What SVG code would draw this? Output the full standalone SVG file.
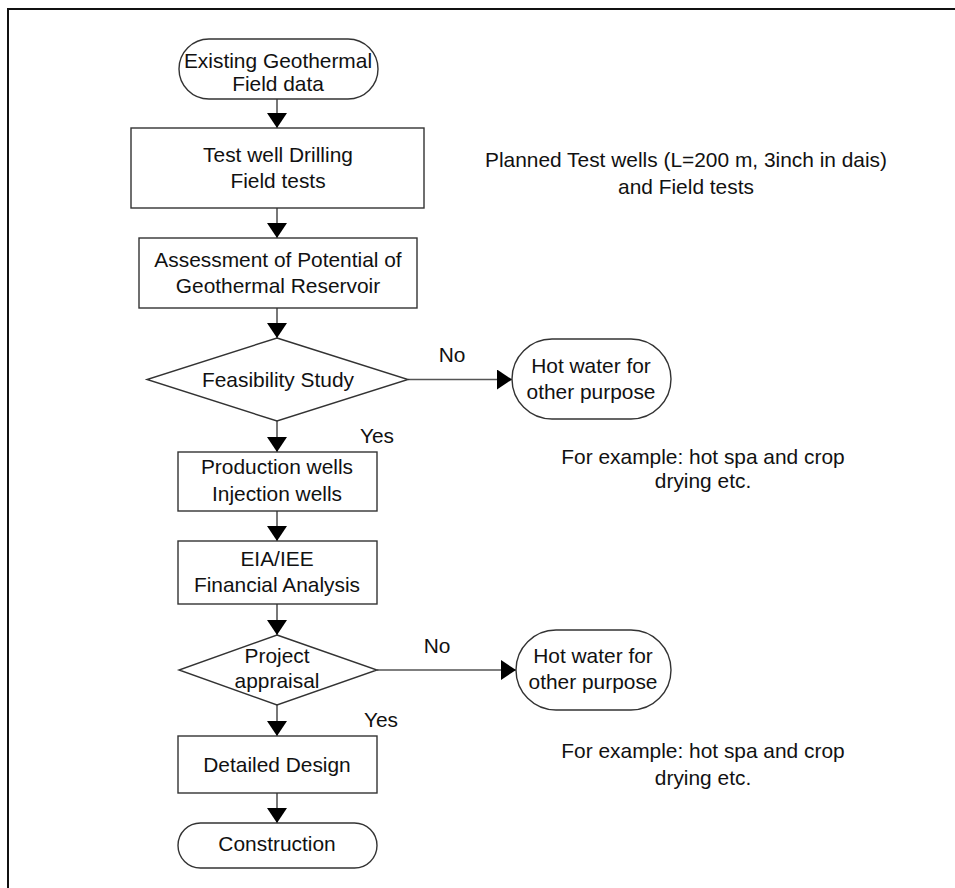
<svg xmlns="http://www.w3.org/2000/svg" width="955" height="888" viewBox="0 0 955 888">
<defs>
<style>
.n{fill:#fff;stroke:#333;stroke-width:1.4}
.t{font-family:"Liberation Sans",Arial,sans-serif;font-size:20.9px;fill:#111;text-anchor:middle}
.c{stroke:#555;stroke-width:1.6;fill:none}
</style>
<marker id="ah" markerUnits="userSpaceOnUse" markerWidth="16" markerHeight="20" refX="15" refY="10" orient="auto" viewBox="0 0 16 20">
<path d="M0,0 L15,10 L0,20 z" fill="#000"/>
</marker>
</defs>
<rect x="0" y="0" width="955" height="888" fill="#fff"/>
<rect x="8" y="9" width="965" height="900" fill="none" stroke="#111" stroke-width="2"/>
<g id="connectors">
<line class="c" x1="277" y1="99" x2="277" y2="128" marker-end="url(#ah)"/>
<line class="c" x1="277" y1="208" x2="277" y2="238" marker-end="url(#ah)"/>
<line class="c" x1="277" y1="308" x2="277" y2="338" marker-end="url(#ah)"/>
<line class="c" x1="408" y1="379.5" x2="512" y2="379.5" marker-end="url(#ah)"/>
<line class="c" x1="277" y1="421" x2="277" y2="452" marker-end="url(#ah)"/>
<line class="c" x1="277" y1="511" x2="277" y2="541" marker-end="url(#ah)"/>
<line class="c" x1="277" y1="604" x2="277" y2="635" marker-end="url(#ah)"/>
<line class="c" x1="377" y1="670" x2="516" y2="670" marker-end="url(#ah)"/>
<line class="c" x1="277" y1="705" x2="277" y2="736" marker-end="url(#ah)"/>
<line class="c" x1="277" y1="793" x2="277" y2="823" marker-end="url(#ah)"/>
<text class="t" x="452" y="362">No</text>
<text class="t" x="377" y="443">Yes</text>
<text class="t" x="437" y="653">No</text>
<text class="t" x="381" y="727">Yes</text>
</g>
<g id="start">
<rect class="n" x="179" y="39" width="199" height="60" rx="30"/>
<text class="t" x="278" y="68">Existing Geothermal</text>
<text class="t" x="278" y="91">Field data</text>
</g>
<g id="testwell">
<rect class="n" x="131" y="128" width="293" height="80"/>
<text class="t" x="278" y="162">Test well Drilling</text>
<text class="t" x="278" y="188">Field tests</text>
</g>
<g id="note1">
<text class="t" x="686" y="167">Planned Test wells (L=200 m, 3inch in dais)</text>
<text class="t" x="686" y="194">and Field tests</text>
</g>
<g id="assessment">
<rect class="n" x="139" y="238" width="278" height="70"/>
<text class="t" x="278" y="267">Assessment of Potential of</text>
<text class="t" x="278" y="293">Geothermal Reservoir</text>
</g>
<g id="feasibility">
<polygon class="n" points="277,338 408,379.5 277,421 147,379.5"/>
<text class="t" x="278" y="387">Feasibility Study</text>
</g>
<g id="hotwater1">
<rect class="n" x="512" y="339" width="159" height="80" rx="40"/>
<text class="t" x="591" y="373">Hot water for</text>
<text class="t" x="591" y="399">other purpose</text>
</g>
<g id="note2">
<text class="t" x="703" y="464">For example: hot spa and crop</text>
<text class="t" x="703" y="488">drying etc.</text>
</g>
<g id="production">
<rect class="n" x="178" y="452" width="199" height="59"/>
<text class="t" x="277" y="474">Production wells</text>
<text class="t" x="277" y="501">Injection wells</text>
</g>
<g id="eia">
<rect class="n" x="178" y="541" width="199" height="63"/>
<text class="t" x="277" y="566">EIA/IEE</text>
<text class="t" x="277" y="592">Financial Analysis</text>
</g>
<g id="appraisal">
<polygon class="n" points="277,635 377,670 277,705 179,670"/>
<text class="t" x="277" y="663">Project</text>
<text class="t" x="277" y="688">appraisal</text>
</g>
<g id="hotwater2">
<rect class="n" x="516" y="630" width="155" height="80" rx="40"/>
<text class="t" x="593" y="663">Hot water for</text>
<text class="t" x="593" y="689">other purpose</text>
</g>
<g id="note3">
<text class="t" x="703" y="758">For example: hot spa and crop</text>
<text class="t" x="703" y="785">drying etc.</text>
</g>
<g id="detailed">
<rect class="n" x="178" y="736" width="199" height="57"/>
<text class="t" x="277" y="772">Detailed Design</text>
</g>
<g id="construction">
<rect class="n" x="178" y="823" width="199" height="45" rx="22.5"/>
<text class="t" x="277" y="851">Construction</text>
</g>
</svg>
